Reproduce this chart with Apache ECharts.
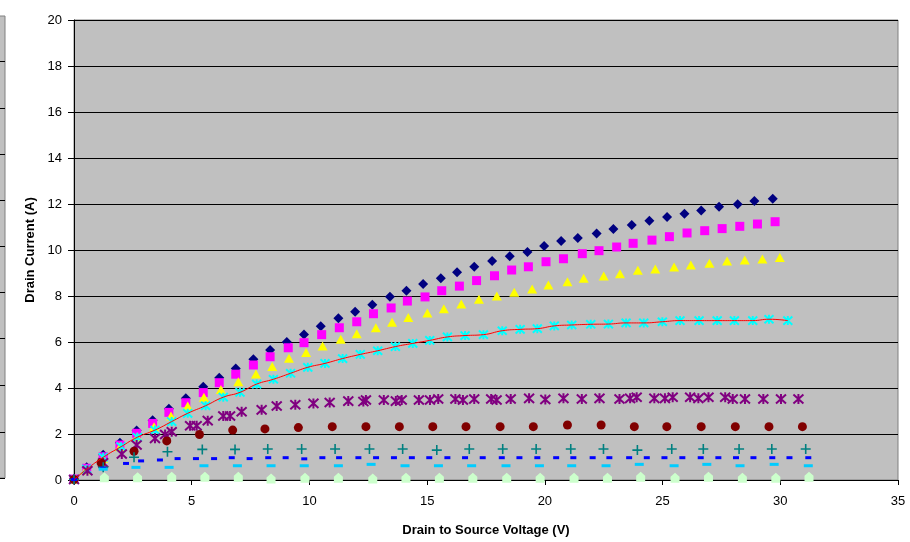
<!DOCTYPE html>
<html><head><meta charset="utf-8">
<script src="https://cdn.jsdelivr.net/npm/echarts@6/dist/echarts.min.js"></script>
<style>html,body{margin:0;padding:0;background:#fff}#c{width:910px;height:542px}</style>
</head><body><div id="c"></div>
<script>
var xTicks = [0,5,10,15,20,25,30,35];
var yTicks = [0,2,4,6,8,10,12,14,16,18,20];

var navyX = [0,0.54,1.24,1.95,2.66,3.34,4.03,4.75,5.49,6.17,6.87,7.62,8.33,9.04,9.77,10.48,11.23,11.94,12.67,13.42,14.12,14.83,15.58,16.27,17.0,17.76,18.51,19.26,19.97,20.69,21.40,22.2,22.91,23.69,24.44,25.19,25.93,26.64,27.4,28.19,28.9,29.68];
var navyY = [0.05,0.55,1.1,1.62,2.15,2.6,3.1,3.55,4.05,4.45,4.85,5.25,5.65,6.0,6.33,6.68,7.03,7.32,7.62,7.97,8.23,8.52,8.77,9.03,9.27,9.52,9.73,9.91,10.17,10.39,10.52,10.72,10.91,11.09,11.27,11.43,11.58,11.72,11.88,11.99,12.13,12.23];

var magX = [0,0.54,1.24,1.95,2.66,3.34,4.03,4.75,5.49,6.17,6.87,7.62,8.33,9.1,9.77,10.52,11.27,12.01,12.72,13.47,14.16,14.91,15.62,16.37,17.1,17.86,18.59,19.3,20.05,20.79,21.59,22.3,23.05,23.75,24.55,25.29,26.04,26.79,27.53,28.28,29.03,29.78];
var magY = [0.04,0.51,1.01,1.52,2.03,2.46,2.94,3.36,3.8,4.23,4.6,5.0,5.36,5.75,5.97,6.32,6.62,6.88,7.23,7.48,7.78,7.96,8.23,8.43,8.67,8.88,9.13,9.27,9.49,9.62,9.84,9.97,10.13,10.29,10.43,10.58,10.74,10.84,10.93,11.03,11.13,11.23];

var yelX = [0,0.5,1.24,1.95,2.69,3.4,4.12,4.83,5.52,6.24,6.98,7.73,8.42,9.13,9.86,10.56,11.33,12.01,12.82,13.51,14.2,15.01,15.71,16.45,17.2,17.96,18.7,19.46,20.15,20.96,21.65,22.5,23.19,23.95,24.69,25.49,26.2,26.99,27.74,28.49,29.24,29.98];
var yelY = [0.03,0.45,0.95,1.45,1.88,2.32,2.78,3.22,3.6,3.94,4.27,4.61,4.93,5.29,5.54,5.83,6.12,6.36,6.62,6.86,7.06,7.26,7.45,7.65,7.86,8.0,8.16,8.3,8.48,8.62,8.77,8.87,8.97,9.12,9.17,9.26,9.35,9.42,9.52,9.57,9.61,9.67];

var cyanX = [0,0.54,1.24,2.0,2.69,3.44,4.15,4.83,5.59,6.34,7.05,7.76,8.47,9.2,9.93,10.66,11.41,12.16,12.9,13.65,14.39,15.11,15.86,16.61,17.39,18.19,18.95,19.68,20.4,21.14,21.95,22.7,23.45,24.2,24.99,25.74,26.55,27.32,28.05,28.83,29.52,30.32];
var cyanY = [0.02,0.47,0.99,1.45,1.86,2.17,2.54,2.9,3.23,3.6,3.81,4.17,4.38,4.64,4.9,5.07,5.28,5.46,5.62,5.8,5.94,6.07,6.22,6.28,6.32,6.49,6.55,6.58,6.7,6.74,6.77,6.78,6.83,6.83,6.88,6.93,6.93,6.93,6.93,6.93,6.99,6.93];

var purX = [0,0.57,1.24,2.03,2.66,3.44,3.87,4.15,4.93,5.21,5.68,6.34,6.63,7.12,7.97,8.61,9.4,10.17,10.86,11.65,12.29,12.4,13.16,13.67,13.92,14.65,15.12,15.47,16.2,16.52,17.0,17.72,17.95,18.55,19.33,20.02,20.79,21.57,22.32,23.17,23.62,23.9,24.65,25.1,25.43,26.17,26.52,26.95,27.66,27.98,28.5,29.28,30.03,30.77];
var purY = [0.02,0.4,0.75,1.13,1.52,1.81,1.98,2.1,2.36,2.36,2.58,2.78,2.78,2.97,3.05,3.22,3.27,3.33,3.37,3.43,3.41,3.48,3.48,3.43,3.48,3.48,3.48,3.52,3.52,3.48,3.52,3.52,3.48,3.52,3.55,3.5,3.55,3.52,3.55,3.52,3.55,3.6,3.55,3.55,3.6,3.6,3.55,3.6,3.6,3.52,3.52,3.52,3.52,3.52];

var redX = [0,1.15,2.55,3.94,5.33,6.74,8.11,9.53,10.97,12.4,13.82,15.24,16.65,18.1,19.51,20.96,22.39,23.8,25.18,26.64,28.09,29.52,30.94];
var redY = [0.02,0.75,1.25,1.7,1.98,2.17,2.22,2.28,2.32,2.32,2.32,2.32,2.32,2.32,2.32,2.39,2.39,2.32,2.32,2.32,2.32,2.32,2.32];

var tealX = [0,1.24,2.55,3.97,5.45,6.84,8.23,9.67,11.09,12.55,13.96,15.41,16.79,18.21,19.63,21.1,22.49,23.93,25.39,26.73,28.25,29.64,31.08];
var tealY = [0.02,0.55,0.99,1.23,1.33,1.33,1.35,1.35,1.35,1.35,1.35,1.3,1.35,1.35,1.35,1.35,1.35,1.3,1.35,1.35,1.35,1.35,1.35];

var blueX = [0,1.24,2.21,2.85,3.65,4.4,5.18,5.95,6.7,7.46,8.25,8.99,9.78,10.55,11.26,12.08,12.83,13.59,14.35,15.09,15.86,16.61,17.36,18.17,18.92,19.68,20.48,21.21,22.03,22.74,23.58,24.33,25.08,25.84,26.62,27.37,28.12,28.86,29.66,30.39,31.19];
var blueY = [0.02,0.52,0.72,0.83,0.87,0.93,0.93,0.93,0.97,0.93,0.97,0.97,0.92,0.97,0.97,0.97,0.97,0.97,0.97,0.97,0.97,0.97,0.97,0.97,0.97,0.97,0.97,0.97,0.97,0.97,0.97,0.97,0.97,0.97,0.97,0.97,0.97,0.97,0.97,0.97,0.97];

var ltX = [1.24,2.63,4.04,5.52,6.94,8.37,9.78,11.23,12.62,14.06,15.48,16.89,18.35,19.77,21.14,22.6,24.01,25.49,26.88,28.29,29.74,31.19];
var ltY = [0.47,0.55,0.55,0.62,0.62,0.62,0.62,0.62,0.68,0.62,0.62,0.62,0.62,0.62,0.62,0.62,0.68,0.62,0.68,0.62,0.68,0.62];

var grnX = [1.29,2.7,4.15,5.56,6.98,8.37,9.81,11.23,12.69,14.1,15.52,16.94,18.38,19.8,21.24,22.66,24.07,25.53,26.95,28.39,29.81,31.22];
var grnY = [0.12,0.12,0.14,0.14,0.14,0.07,0.1,0.1,0.07,0.1,0.1,0.1,0.1,0.1,0.1,0.1,0.14,0.1,0.14,0.1,0.1,0.14];

function zip(xs, ys){ return xs.map(function(x,i){ return [x, ys[i]]; }); }

var F = 'Liberation Sans, Arial, sans-serif';
var starPath = 'path://M-1,-1 L1,1 M1,-1 L-1,1 M0,-1.1 L0,1.1';
var plusPath = 'path://M-1,0 L1,0 M0,-1 L0,1';
var housePath = 'path://M0,-1 L1,-0.2 L1,1 L-1,1 L-1,-0.2 Z';

function sc(name, data, symbol, size, fill, stroke, bw){
  return {
    name: name, type: 'scatter', data: data, symbol: symbol, symbolSize: size,
    itemStyle: { color: fill, borderColor: stroke || fill, borderWidth: bw || 0, opacity: 1 },
    emphasis: { disabled: true }, animation: false
  };
}

var leftStrip = [{type:'rect', shape:{x:-2,y:16,width:7,height:462}, style:{fill:'#c0c0c0', stroke:'#808080', lineWidth:1}}];
[61,108,154,200,246,292,338,385,432,478].forEach(function(y){
  leftStrip.push({type:'line', shape:{x1:0,y1:y+0.5,x2:5,y2:y+0.5}, style:{stroke:'#000', lineWidth:1}});
});

var chart = echarts.init(document.getElementById('c'), null, {renderer:'canvas'});
chart.setOption({
  animation: false,
  backgroundColor: '#ffffff',
  graphic: leftStrip,
  grid: { left: 74, right: 12, top: 20, bottom: 62, show: true, backgroundColor: '#c0c0c0', borderColor: '#808080', borderWidth: 1 },
  xAxis: {
    type: 'value', min: xTicks[0], max: xTicks[xTicks.length-1], interval: 5,
    name: 'Drain to Source Voltage (V)', nameLocation: 'middle', nameGap: 44,
    nameTextStyle: { fontFamily: F, fontSize: 13, fontWeight: 'bold', color: '#000' },
    axisLine: { show: true, onZero: false, lineStyle: { color: '#000', width: 1 } },
    axisTick: { show: true, inside: false, length: 5, lineStyle: { color: '#000' } },
    axisLabel: { fontFamily: F, fontSize: 13, color: '#000', margin: 15 },
    splitLine: { show: false }
  },
  yAxis: {
    type: 'value', min: yTicks[0], max: yTicks[yTicks.length-1], interval: 2,
    name: 'Drain Current (A)', nameLocation: 'middle', nameGap: 37,
    nameTextStyle: { fontFamily: F, fontSize: 13, fontWeight: 'bold', color: '#000' },
    axisLine: { show: true, lineStyle: { color: '#000', width: 1 } },
    axisTick: { show: true, inside: false, length: 6, lineStyle: { color: '#000' } },
    axisLabel: { fontFamily: F, fontSize: 13, color: '#000', margin: 12 },
    splitLine: { show: true, lineStyle: { color: '#000', width: 1 } }
  },
  series: [
    sc('s1', zip(navyX, navyY), 'diamond', 10, '#000080'),
    sc('s2', zip(magX, magY), 'rect', 9, '#ff00ff'),
    sc('s3', zip(yelX, yelY), 'triangle', [10,9], '#ffff00'),
    { name: 'trend', type: 'line', data: zip(cyanX, cyanY), smooth: 0.5, showSymbol: false, symbol: 'none',
      lineStyle: { color: '#ff0000', width: 1 }, emphasis: { disabled: true }, animation: false },
    sc('s4', zip(cyanX, cyanY), starPath, 9, 'rgba(0,0,0,0)', '#00ffff', 2),
    sc('s5', zip(purX, purY), starPath, 10, 'rgba(0,0,0,0)', '#800080', 2),
    sc('s6', zip(redX, redY), 'circle', 9, '#800000'),
    sc('s7', zip(tealX, tealY), plusPath, 10, 'rgba(0,0,0,0)', '#008080', 1.6),
    sc('s8', zip(blueX, blueY), 'rect', [6,3], '#0000ff'),
    sc('s9', zip(ltX, ltY), 'rect', [9,3], '#00ccff'),
    sc('s10', zip(grnX, grnY), housePath, [9,10], '#ccffcc')
  ]
});
</script></body></html>
